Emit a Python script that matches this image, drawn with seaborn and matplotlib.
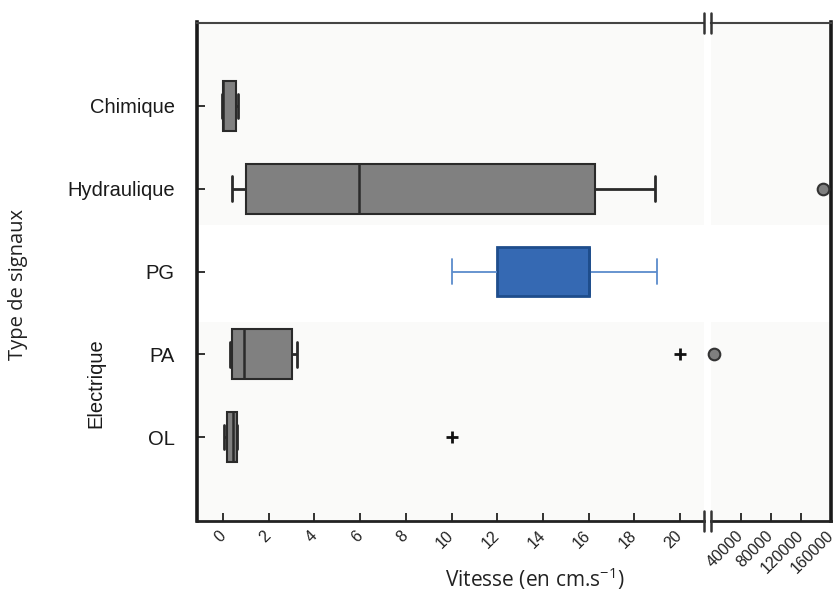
import matplotlib
matplotlib.use("Agg")
import matplotlib.pyplot as plt
import seaborn as sns
import pandas as pd
from matplotlib.lines import Line2D

# ---------------- data ----------------
categories = ["Chimique", "Hydraulique", "PG", "PA", "OL"]
# five-number summaries: lower whisker, Q1, median, Q3, upper whisker
whisker_low = [-0.05, 0.4, 10.0, 0.3, 0.06]
q1 = [0.0, 1.0, 12.0, 0.38, 0.16]
median = [0.02, 5.95, 16.0, 0.9, 0.45]
q3 = [0.57, 16.3, 16.0, 3.0, 0.6]
whisker_high = [0.67, 18.9, 19.0, 3.25, 0.6]

# outliers on the 0-20 scale ("+") and on the large scale (circles)
plus_cats = ["PA", "OL"]
plus_vals = [20.0, 10.0]
circle_cats = ["Hydraulique", "PA"]
circle_vals = [149000, 4000]

left_ticks = [0, 2, 4, 6, 8, 10, 12, 14, 16, 18, 20]
right_ticks = [40000, 80000, 120000, 160000]

highlight = "PG"

# ---------------- style ----------------
sns.set_theme(style="white")
plt.rcParams["font.family"] = ["Liberation Sans", "DejaVu Sans"]
plt.rcParams["mathtext.fontset"] = "custom"
plt.rcParams["mathtext.rm"] = "Open Sans"
plt.rcParams["mathtext.it"] = "Open Sans:italic"
plt.rcParams["mathtext.default"] = "rm"

rows = []
for c, a, b, m, d, e in zip(categories, whisker_low, q1, median, q3, whisker_high):
    for v in (a, b, m, d, e):
        rows.append({"signal": c, "value": v})
df = pd.DataFrame(rows)
gray_df = df[df["signal"] != highlight]
hl_df = df[df["signal"] == highlight]

W, H = 837, 599
fig = plt.figure(figsize=(W / 100, H / 100), dpi=100)
fig.patch.set_facecolor("white")

top_px, bot_px = 22.5, 521
axL = fig.add_axes([197 / W, 1 - bot_px / H, (704 - 197) / W, (bot_px - top_px) / H])
axR = fig.add_axes([711 / W, 1 - bot_px / H, (831 - 711) / W, (bot_px - top_px) / H])

for ax in (axL, axR):
    ax.set_facecolor("#fafaf9")
    ax.axhspan(1.44, 2.61, color="white", zorder=0, lw=0)

sns.boxplot(data=gray_df, x="value", y="signal", order=categories, ax=axL,
            color="#808080", saturation=1, linecolor="#2a2a2a", linewidth=1.5,
            width=0.6, whis=1.5, showfliers=False,
            whiskerprops=dict(linewidth=2.0), capprops=dict(linewidth=2.0),
            medianprops=dict(linewidth=1.8))
sns.boxplot(data=hl_df, x="value", y="signal", order=categories, ax=axL,
            color="#3569B3", saturation=1, linecolor="#1E4D8C", linewidth=2.0,
            width=0.6, whis=1.5, showfliers=False,
            whiskerprops=dict(color="#5B8BCB", linewidth=1.3),
            capprops=dict(color="#5B8BCB", linewidth=1.3),
            medianprops=dict(color="#1E4D8C", linewidth=2.0))

sns.scatterplot(x=plus_vals, y=plus_cats, ax=axL, marker="+", s=70,
                color="#111111", linewidth=2, zorder=5, legend=False)
sns.scatterplot(x=circle_vals, y=[categories.index(c) for c in circle_cats], ax=axR,
                marker="o", s=70, color="#7f7f7f", edgecolor="#333333",
                linewidth=1.5, zorder=5, legend=False, clip_on=False)

ylim = (5.015, -1.009)
axL.set_ylim(*ylim)
axR.set_ylim(*ylim)
axL.set_xlim(-1.138, 21.05)
axR.set_xlim(600, 160000)

axL.set_xlabel("")
axL.set_ylabel("")
axR.set_xlabel("")
axR.set_ylabel("")

axL.set_xticks(left_ticks)
axL.set_xticklabels([str(t) for t in left_ticks])
axR.set_xticks(right_ticks)
axR.set_xticklabels([str(t) for t in right_ticks])
axR.set_yticks([])

for ax in (axL, axR):
    ax.tick_params(axis="x", direction="in", length=6, width=1.3, color="#222222",
                   pad=9, labelsize=11.5, labelcolor="#222222", bottom=True)
    for lab in ax.get_xticklabels():
        lab.set_rotation(45)
        lab.set_ha("right")
        lab.set_va("center")
        lab.set_rotation_mode("anchor")

axL.tick_params(axis="y", direction="in", length=6, width=1.3, color="#222222",
                pad=16, labelsize=14.5, labelcolor="#1a1a1a", left=True)
for lab in axL.get_yticklabels():
    lab.set_va("center_baseline")

for ax in (axL, axR):
    for s in ax.spines.values():
        s.set_visible(True)
    ax.spines["top"].set_linewidth(1.5)
    ax.spines["top"].set_color("#444444")
    ax.spines["bottom"].set_linewidth(2.0)
    ax.spines["bottom"].set_color("#222222")
axL.spines["right"].set_visible(False)
axL.spines["left"].set_linewidth(2.6)
axL.spines["left"].set_color("#1a1a1a")
axR.spines["left"].set_visible(False)
axR.spines["right"].set_linewidth(2.6)
axR.spines["right"].set_color("#1a1a1a")

# break marks
for xb in (704, 711):
    for yc in (top_px, bot_px):
        fig.add_artist(Line2D([xb / W, xb / W], [1 - (yc - 10) / H, 1 - (yc + 10) / H],
                              transform=fig.transFigure, color="#333333", lw=1.8))

fig.text(18 / W, 1 - 285 / H, "Type de signaux", rotation=90, ha="center", va="center",
         family="Open Sans", fontsize=14.5, color="#222222")
fig.text(96 / W, 1 - 383 / H, "Electrique", rotation=90, ha="center", va="center",
         family=["Liberation Sans", "DejaVu Sans"], fontsize=14.5, color="#1a1a1a")
fig.text(535 / W, 1 - 579 / H, "Vitesse (en cm.s$^{-1}$)", ha="center", va="center",
         family="Open Sans", fontsize=15, color="#222222")

fig.savefig("out.png", dpi=100, facecolor="white")
